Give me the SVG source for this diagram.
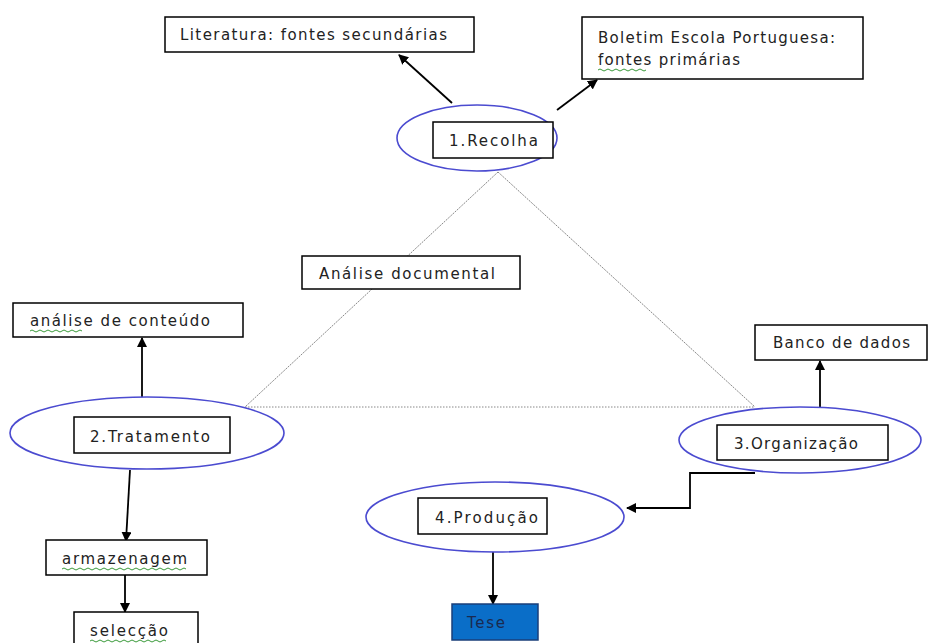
<svg xmlns="http://www.w3.org/2000/svg" width="929" height="643" viewBox="0 0 929 643">
<style>
.box{fill:#fff;stroke:#000;stroke-width:1.5}
.ell{fill:#fff;stroke:#4b4bd0;stroke-width:1.6}
.t{font-family:"DejaVu Sans",Verdana,sans-serif;font-size:15px;fill:#222}
.c{fill:none;stroke:#000;stroke-width:1.8}
.tri{fill:none;stroke:#888;stroke-width:1}
.sq{fill:none;stroke:#3a9a3a;stroke-width:1}
</style>
<defs>
<marker id="ah" viewBox="0 0 10 10" refX="9" refY="5" markerWidth="10" markerHeight="10" markerUnits="userSpaceOnUse" orient="auto">
<path d="M0,0 L10,5 L0,10 Z" fill="#000"/>
</marker>
</defs>
<rect width="929" height="643" fill="#fff"/>
<g id="triangle">
<path class="tri" d="M498,172 L245,407" stroke-dasharray="2,1"/>
<path class="tri" d="M498,172 L755,407" stroke-dasharray="2,1"/>
<path class="tri" d="M245,407 L755,407" stroke-dasharray="1.5,1.5"/>
</g>
<g id="connectors">
<path class="c" d="M452,103 L399,55" marker-end="url(#ah)"/>
<path class="c" d="M557,110 L597,80" marker-end="url(#ah)"/>
<path class="c" d="M142,398 L142,338" marker-end="url(#ah)"/>
<path class="c" d="M130,470 L126,541" marker-end="url(#ah)"/>
<path class="c" d="M125,575 L125,612" marker-end="url(#ah)"/>
<path class="c" d="M820,407 L820,361" marker-end="url(#ah)"/>
<path class="c" d="M755,473 L690,473 L690,508 L627,508" marker-end="url(#ah)"/>
<path class="c" d="M493,552 L493,604" marker-end="url(#ah)"/>
</g>
<g id="literatura">
<rect class="box" x="165" y="17" width="309" height="35"/>
<text class="t" x="180" y="40" textLength="267">Literatura: fontes secundárias</text>
</g>
<g id="boletim">
<rect class="box" x="582" y="17" width="281" height="62"/>
<text class="t" x="598" y="43" textLength="237">Boletim Escola Portuguesa:</text>
<text class="t" x="598" y="65" textLength="142">fontes primárias</text>
<path class="sq" d="M598,70 q2,-2 4,0 t4,0 t4,0 t4,0 t4,0 t4,0 t4,0 t4,0 t4,0 t4,0 t4,0 t4,0"/>
</g>
<g id="recolha">
<ellipse class="ell" cx="477" cy="138" rx="80" ry="33"/>
<rect class="box" x="433" y="122" width="120" height="36"/>
<text class="t" x="449" y="146" textLength="89">1.Recolha</text>
</g>
<g id="analise-documental">
<rect class="box" x="302" y="256" width="218" height="33"/>
<text class="t" x="319" y="279" textLength="176">Análise documental</text>
</g>
<g id="analise-conteudo">
<rect class="box" x="13" y="303" width="230" height="34"/>
<text class="t" x="30" y="326" textLength="180">análise de conteúdo</text>
<path class="sq" d="M30,331 q2,-2 4,0 t4,0 t4,0 t4,0 t4,0 t4,0 t4,0 t4,0 t4,0 t4,0 t4,0 t4,0 t4,0"/>
</g>
<g id="tratamento">
<ellipse class="ell" cx="147" cy="433" rx="137" ry="36"/>
<rect class="box" x="74" y="417" width="156" height="36"/>
<text class="t" x="90" y="442" textLength="120">2.Tratamento</text>
</g>
<g id="armazenagem">
<rect class="box" x="46" y="540" width="161" height="35"/>
<text class="t" x="62" y="564" textLength="125">armazenagem</text>
<path class="sq" d="M62,569 q2,-2 4,0 t4,0 t4,0 t4,0 t4,0 t4,0 t4,0 t4,0 t4,0 t4,0 t4,0 t4,0 t4,0 t4,0 t4,0 t4,0 t4,0 t4,0 t4,0 t4,0 t4,0 t4,0 t4,0 t4,0 t4,0 t4,0 t4,0 t4,0 t4,0 t4,0 t4,0"/>
</g>
<g id="seleccao">
<rect class="box" x="74" y="612" width="124" height="40"/>
<text class="t" x="90" y="636" textLength="78">selecção</text>
<path class="sq" d="M90,641 q2,-2 4,0 t4,0 t4,0 t4,0 t4,0 t4,0 t4,0 t4,0 t4,0 t4,0 t4,0 t4,0 t4,0 t4,0 t4,0 t4,0 t4,0 t4,0 t4,0"/>
</g>
<g id="organizacao">
<ellipse class="ell" cx="800" cy="440" rx="121" ry="33"/>
<rect class="box" x="717" y="425" width="171" height="35"/>
<text class="t" x="734" y="449" textLength="124">3.Organização</text>
</g>
<g id="banco">
<rect class="box" x="755" y="325" width="172" height="35"/>
<text class="t" x="773" y="348" textLength="137">Banco de dados</text>
</g>
<g id="producao">
<ellipse class="ell" cx="495" cy="517" rx="129" ry="35"/>
<rect class="box" x="418" y="498" width="129" height="36"/>
<text class="t" x="435" y="523" textLength="103">4.Produção</text>
</g>
<g id="tese">
<rect x="452" y="604" width="86" height="36" fill="#0a6ec8" stroke="#1a3f7a" stroke-width="1.5"/>
<text class="t" x="467" y="628" textLength="38" style="fill:#1a2a50">Tese</text>
</g>
</svg>
